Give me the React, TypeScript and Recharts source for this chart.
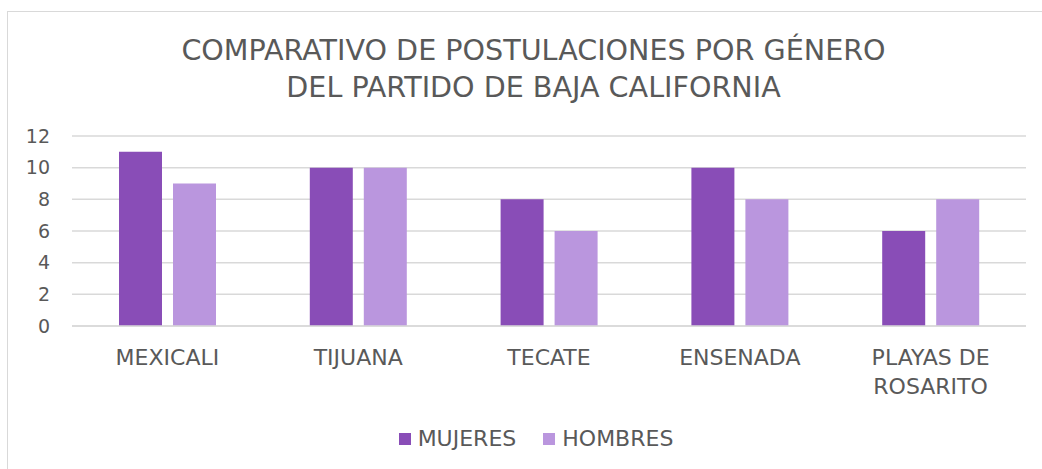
import { Bar, BarChart, CartesianGrid, XAxis, YAxis } from 'recharts';

const categories = ['MEXICALI', 'TIJUANA', 'TECATE', 'ENSENADA', 'PLAYAS DE ROSARITO'];
const mujeres = [11, 10, 8, 10, 6];
const hombres = [9, 10, 6, 8, 8];
const yTicks = [0, 2, 4, 6, 8, 10, 12];
const titleLines = ['COMPARATIVO DE POSTULACIONES POR GÉNERO', 'DEL PARTIDO DE BAJA CALIFORNIA'];

const seriesInfo = [
  { key: 'mujeres', name: 'MUJERES', color: '#894DB7' },
  { key: 'hombres', name: 'HOMBRES', color: '#BA96DE' },
];

const data = categories.map((c, i) => ({ name: c, mujeres: mujeres[i], hombres: hombres[i] }));

const FONT = '"DejaVu Sans", sans-serif';
const TEXT = '#595959';
const GRID = '#D9D9D9';

// break long category names into lines of ~10 chars, like Excel does
function wrap(label: string, max = 10) {
  const lines: string[] = [];
  let cur = '';
  for (const w of label.split(' ')) {
    const next = cur ? cur + ' ' + w : w;
    if (next.length > max && cur) {
      lines.push(cur);
      cur = w;
    } else {
      cur = next;
    }
  }
  if (cur) lines.push(cur);
  return lines;
}

function CategoryTick({ x, y, payload }: any) {
  const lines = wrap(String(payload.value));
  return (
    <text x={x} y={y + 39} textAnchor="middle" fill={TEXT} fontSize={22} fontFamily={FONT}>
      {lines.map((l, i) => (
        <tspan key={i} x={x} dy={i === 0 ? 0 : 29}>
          {l}
        </tspan>
      ))}
    </text>
  );
}

export default function App() {
  return (
    <div
      style={{
        position: 'absolute',
        left: 0,
        top: 0,
        width: 1042,
        height: 469,
        overflow: 'hidden',
        background: '#fff',
        fontFamily: FONT,
      }}
    >
      <div
        style={{
          position: 'absolute',
          left: 7,
          top: 11,
          width: 1100,
          height: 500,
          border: `1px solid ${GRID}`,
        }}
      />
      <div
        style={{
          position: 'absolute',
          left: 0,
          top: 32,
          width: 1067,
          textAlign: 'center',
          fontSize: 28.6,
          lineHeight: '37px',
          color: TEXT,
        }}
      >
        {titleLines.map((t) => (
          <div key={t}>{t}</div>
        ))}
      </div>
      <div style={{ position: 'absolute', left: 0, top: 0 }}>
        <BarChart
          width={1042}
          height={469}
          data={data}
          margin={{ top: 136, right: 16, left: 0, bottom: 0 }}
          barGap={11}
          barSize={43}
        >
          <CartesianGrid vertical={false} stroke={GRID} strokeWidth={1.5} />
          <XAxis
            dataKey="name"
            height={143}
            axisLine={{ stroke: GRID, strokeWidth: 1.5 }}
            tickLine={false}
            tickSize={0}
            tickMargin={0}
            interval={0}
            tick={<CategoryTick />}
          />
          <YAxis
            width={72}
            domain={[0, 12]}
            ticks={yTicks}
            axisLine={false}
            tickLine={false}
            tickMargin={16}
            tick={{ fill: TEXT, fontSize: 19, fontFamily: FONT }}
          />
          {seriesInfo.map((s) => (
            <Bar key={s.key} dataKey={s.key} name={s.name} fill={s.color} isAnimationActive={false} />
          ))}
        </BarChart>
      </div>
      <div
        style={{
          position: 'absolute',
          left: 0,
          top: 428,
          width: 1072,
          height: 22,
          display: 'flex',
          justifyContent: 'center',
          alignItems: 'center',
          gap: 27,
          fontSize: 22,
          lineHeight: '22px',
          color: TEXT,
        }}
      >
        {seriesInfo.map((s) => (
          <div key={s.key} style={{ display: 'flex', alignItems: 'center', gap: 7 }}>
            <span style={{ width: 12, height: 12, background: s.color, display: 'inline-block' }} />
            <span>{s.name}</span>
          </div>
        ))}
      </div>
    </div>
  );
}
